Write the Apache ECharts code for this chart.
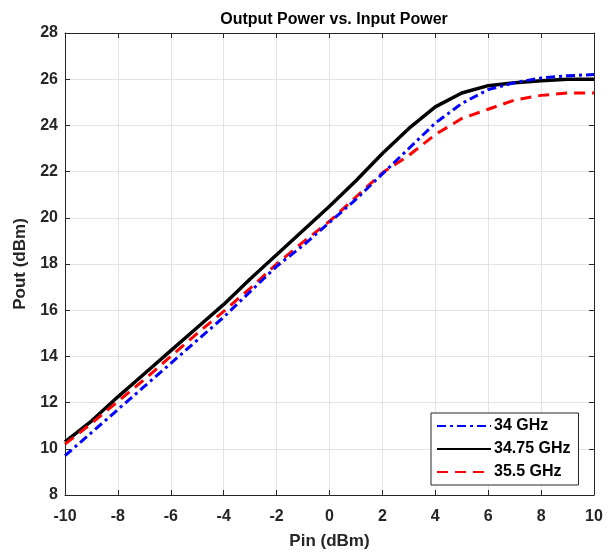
<!DOCTYPE html>
<html><head><meta charset="utf-8">
<script src="https://cdn.jsdelivr.net/npm/echarts@6/dist/echarts.min.js"></script>
<style>html,body{margin:0;padding:0;background:#fff}#c{width:614px;height:555px}</style>
</head><body><div id="c"></div>
<script>
const pin = [-10,-9,-8,-7,-6,-5,-4,-3,-2,-1,0,1,2,3,4,5,6,7,8,9,10];
const pout34 = [9.7,10.7,11.7,12.7,13.7,14.7,15.7,16.8,17.9,18.8,19.8,20.8,21.9,23.0,24.1,24.95,25.55,25.85,26.05,26.15,26.2];
const pout3475 = [10.3,11.2,12.25,13.25,14.25,15.25,16.25,17.35,18.4,19.45,20.5,21.6,22.78,23.87,24.8,25.4,25.72,25.85,25.93,26.0,26.0];
const pout355 = [10.2,11.1,12.05,13.0,14.0,15.0,15.95,16.95,18.0,18.95,19.85,20.9,21.95,22.7,23.6,24.3,24.7,25.1,25.3,25.4,25.4];
const seriesNames = ['34 GHz','34.75 GHz','35.5 GHz'];
const xTicks = [-10,-8,-6,-4,-2,0,2,4,6,8,10];
const yTicks = [8,10,12,14,16,18,20,22,24,26,28];

const toPairs = ys => pin.map((x,i)=>[x, ys[i]]);
const axisCol = '#262626';
const font = 'Liberation Sans, Arial, sans-serif';
const chart = echarts.init(document.getElementById('c'));
const baseX = {type:'value', min:-10, max:10, interval:2,
  axisLine:{show:true, onZero:false, lineStyle:{color:axisCol}},
  axisTick:{show:true, inside:true, length:5, lineStyle:{color:axisCol}}};
const baseY = {type:'value', min:8, max:28, interval:2,
  axisLine:{show:true, onZero:false, lineStyle:{color:axisCol}},
  axisTick:{show:true, inside:true, length:5, lineStyle:{color:axisCol}}};
chart.setOption({
  animation:false,
  backgroundColor:'#fff',
  title:{text:'Output Power vs. Input Power', left:329, textAlign:'center', top:7,
    textStyle:{fontFamily:font, fontWeight:'bold', fontSize:16, color:'#000'}},
  grid:{left:65, right:20, top:33, bottom:60, show:false},
  legend:{orient:'vertical', left:431, top:413, data:seriesNames,
    backgroundColor:'#fff', borderColor:axisCol, borderWidth:1, borderRadius:0,
    padding:[5,8,5,5], itemGap:7, itemWidth:54, itemHeight:14,
    itemStyle:{opacity:0},
    textStyle:{fontFamily:font, fontWeight:'bold', fontSize:16, color:'#000', padding:[0,0,0,-2]}},
  xAxis:[Object.assign({}, baseX, {position:'bottom', name:'Pin (dBm)', nameLocation:'middle', nameGap:38,
      nameTextStyle:{fontFamily:font, fontWeight:'bold', fontSize:17, color:'#262626'},
      axisLabel:{fontFamily:font, fontWeight:'bold', fontSize:16, color:'#262626', margin:14},
      splitLine:{show:true, lineStyle:{color:'#e3e3e3'}}}),
    Object.assign({}, baseX, {position:'top', axisLabel:{show:false}, splitLine:{show:false}})],
  yAxis:[Object.assign({}, baseY, {position:'left', name:'Pout (dBm)', nameLocation:'middle', nameGap:27,
      nameTextStyle:{fontFamily:font, fontWeight:'bold', fontSize:17, color:'#262626'},
      axisLabel:{fontFamily:font, fontWeight:'bold', fontSize:16, color:'#262626', margin:7},
      splitLine:{show:true, lineStyle:{color:'#e3e3e3'}}}),
    Object.assign({}, baseY, {position:'right', axisLabel:{show:false}, splitLine:{show:false}})],
  series:[
    {name:seriesNames[0], type:'line', data:toPairs(pout34), showSymbol:false, symbol:'none', z:3,
      lineStyle:{color:'#0000ff', width:3, type:[9,4,3,4]}, itemStyle:{color:'#0000ff'}},
    {name:seriesNames[1], type:'line', data:toPairs(pout3475), showSymbol:false, symbol:'none', z:2,
      lineStyle:{color:'#000000', width:3.5, type:'solid'}, itemStyle:{color:'#000'}},
    {name:seriesNames[2], type:'line', data:toPairs(pout355), showSymbol:false, symbol:'none', z:2,
      lineStyle:{color:'#ff0000', width:3, type:[11,7]}, itemStyle:{color:'#ff0000'}}
  ]
});
</script></body></html>
